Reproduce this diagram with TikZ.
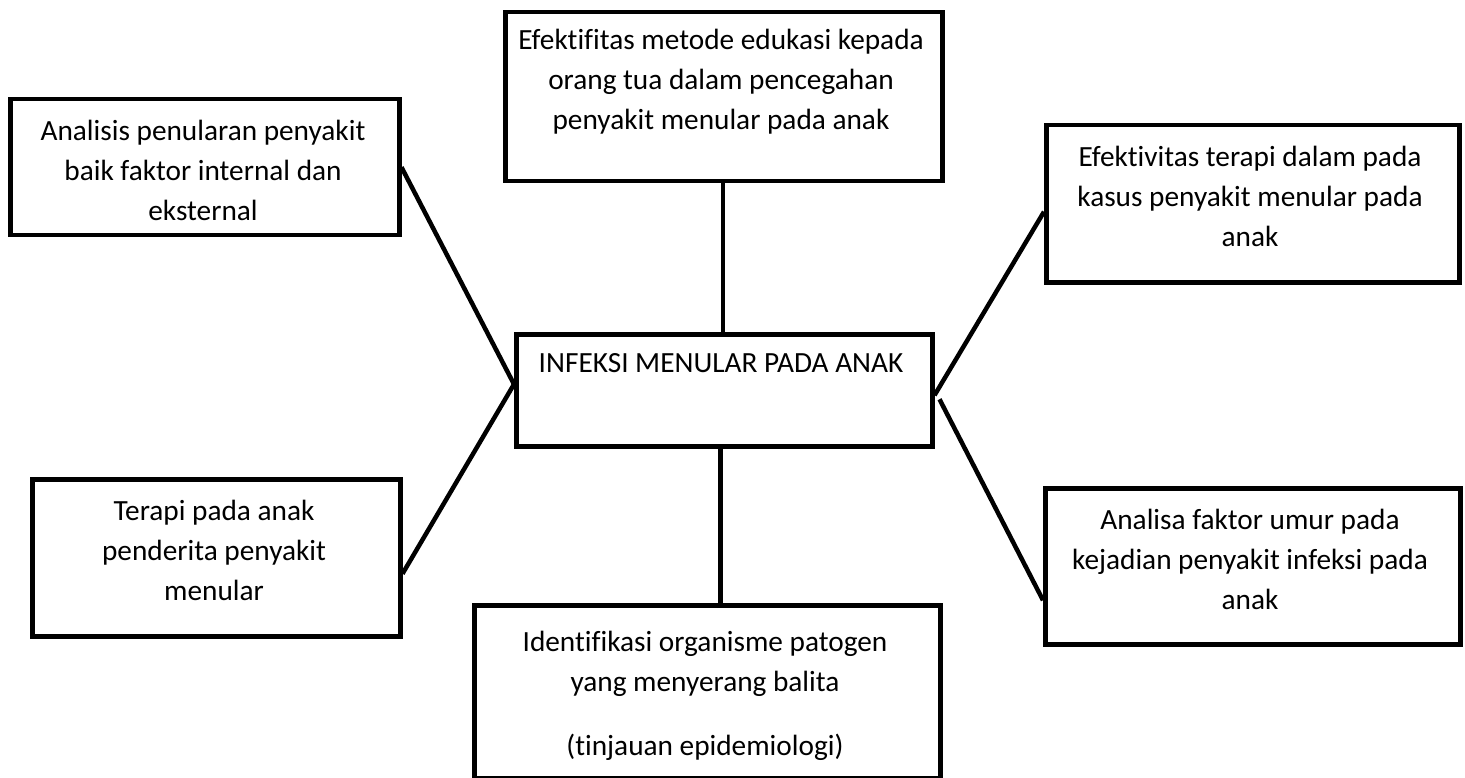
\documentclass[tikz,border=0pt]{standalone}
\usepackage{fontspec}
\setmainfont{Carlito}[Ligatures=NoCommon]
\begin{document}
\begin{tikzpicture}[x=1pt,y=-1pt,
  box/.style={draw, line width=4.5pt, rectangle, inner sep=0pt, anchor=north west},
  lbl/.style={align=center, font=\fontsize{29.3}{40}\selectfont, inner sep=0pt},
  conn/.style={line width=4.5pt}]
\useasboundingbox (0,0) rectangle (1465,778);
% boxes
\node[box, minimum width=437pt, minimum height=169pt] (T) at (503,10) {};
\node[box, minimum width=416pt, minimum height=112pt] (C) at (514,332) {};
\node[box, minimum width=466pt, minimum height=173pt] (B) at (472,603) {};
\node[box, minimum width=389pt, minimum height=136pt] (L1) at (8,97) {};
\node[box, minimum width=368pt, minimum height=157pt] (L2) at (30,477) {};
\node[box, minimum width=413pt, minimum height=157pt] (R1) at (1044,123) {};
\node[box, minimum width=415pt, minimum height=156pt] (R2) at (1043,486) {};
% texts
\node[lbl] (tT) at (721,82) {Efektifitas metode edukasi kepada\\orang tua dalam pencegahan\\penyakit menular pada anak};
\node[lbl] (tC) at (721,363) {INFEKSI MENULAR PADA ANAK};
\node[lbl] (tB) at (705,696) {Identifikasi organisme patogen\\yang menyerang balita\\[24pt](tinjauan epidemiologi)};
\node[lbl] (tL1) at (203,170) {Analisis penularan penyakit\\baik faktor internal dan\\eksternal};
\node[lbl] (tL2) at (214,550) {Terapi pada anak\\penderita penyakit\\menular};
\node[lbl] (tR1) at (1250,196) {Efektivitas terapi dalam pada\\kasus penyakit menular pada\\anak};
\node[lbl] (tR2) at (1250,559) {Analisa faktor umur pada\\kejadian penyakit infeksi pada\\anak};
% connectors
\draw[conn] ([xshift=-1pt]T.south) -- ([xshift=-1pt]T.south |- C.north);
\draw[conn] ([xshift=-4pt]C.south) -- ([xshift=-4pt]C.south |- B.north);
\draw[conn] (L1.east) -- ([yshift=6pt]C.west);
\draw[conn] ([yshift=6pt]C.west) -- ([yshift=-16pt]L2.east);
\draw[conn] ([yshift=-5pt]C.east) -- ([yshift=-8pt]R1.west);
\draw[conn] ([xshift=5pt,yshift=-9pt]C.east) -- ([yshift=-34pt]R2.west);
\end{tikzpicture}
\end{document}
